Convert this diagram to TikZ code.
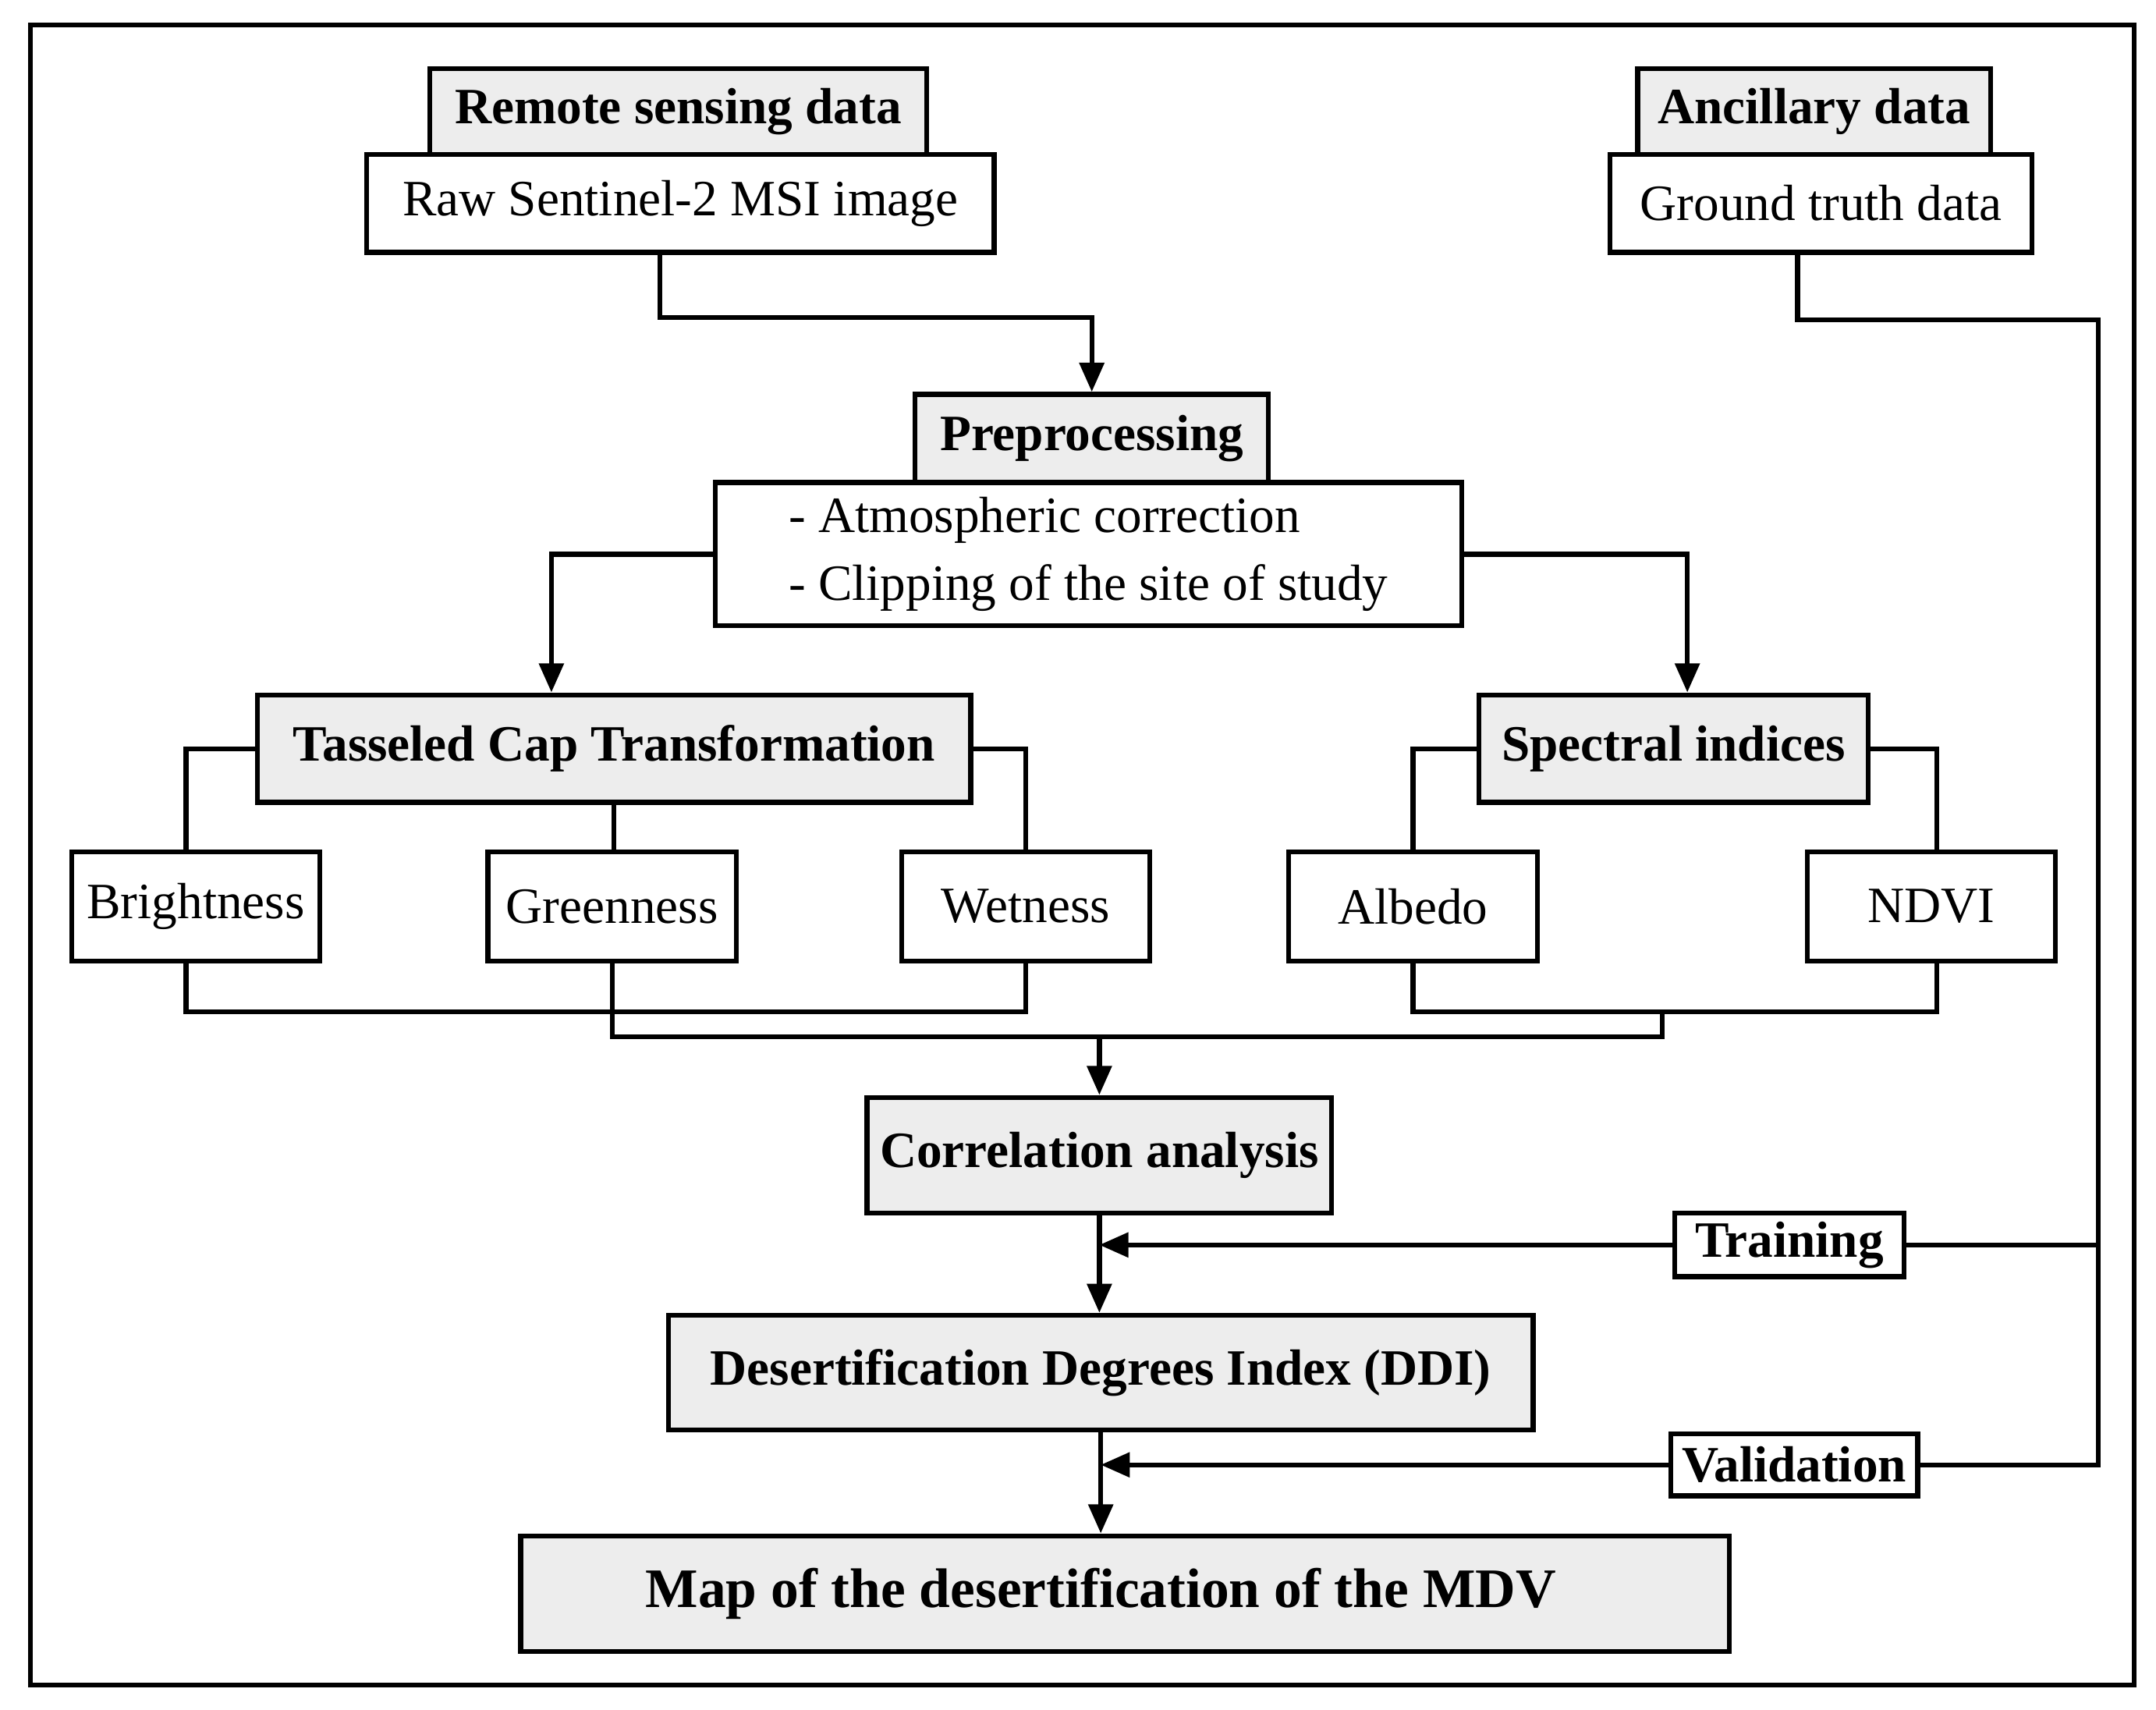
\documentclass[tikz,border=0pt]{standalone}
\usepackage{fontspec}
\setmainfont{Liberation Serif}
\usetikzlibrary{calc,arrows.meta}
\begin{document}
\begin{tikzpicture}[x=0.01cm,y=-0.01cm,
  ln/.style={line width=1pt},
  box/.style={draw,line width=1pt,fill=white,inner sep=0pt,font=\fontsize{10.5}{12}\selectfont},
  hdr/.style={box,fill=black!7,font=\fontsize{10.5}{12}\selectfont\bfseries},
  arr/.style={ln,-{Triangle[length=6pt,width=5pt]}}]
\useasboundingbox (0,0) rectangle (1564,1240);
\draw[ln] (22,18) rectangle (1548,1222);
\node[hdr,minimum width=3.6cm,minimum height=0.62cm] (rs) at (492,81) {Remote sensing data};
\node[box,minimum width=4.55cm,minimum height=0.71cm] (raw) at (493.5,147.5) {Raw Sentinel-2 MSI image};
\node[hdr,minimum width=2.56cm,minimum height=0.62cm] (anc) at (1316,81) {Ancillary data};
\node[box,minimum width=3.06cm,minimum height=0.71cm] (gt) at (1321,147.5) {Ground truth data};
\node[hdr,minimum width=2.56cm,minimum height=0.64cm] (pre) at (792,318) {Preprocessing};
\node[box,minimum width=5.41cm,minimum height=1.04cm,align=left] (prebox) at (789.5,402) {- Atmospheric correction\\[2pt]- Clipping of the site of study};
\node[hdr,minimum width=5.17cm,minimum height=0.78cm] (tct) at (445.5,543) {Tasseled Cap Transformation};
\node[hdr,minimum width=2.82cm,minimum height=0.78cm] (si) at (1214,543) {Spectral indices};
\node[box,minimum width=1.8cm,minimum height=0.79cm] (bright) at (142,657.5) {Brightness};
\node[box,minimum width=1.8cm,minimum height=0.79cm] (green) at (444,657.5) {Greenness};
\node[box,minimum width=1.8cm,minimum height=0.79cm] (wet) at (744,657.5) {Wetness};
\node[box,minimum width=1.8cm,minimum height=0.79cm] (alb) at (1025,657.5) {Albedo};
\node[box,minimum width=1.8cm,minimum height=0.79cm] (ndvi) at (1401,657.5) {NDVI};
\node[hdr,minimum width=3.37cm,minimum height=0.84cm] (corr) at (797.5,838) {Correlation analysis};
\node[hdr,minimum width=6.27cm,minimum height=0.83cm] (ddi) at (798.5,995.5) {Desertification Degrees Index (DDI)};
\node[hdr,minimum width=8.76cm,minimum height=0.84cm,font=\fontsize{11.5}{13}\selectfont\bfseries] (map) at (816,1156) {Map of the desertification of the MDV\hspace*{0.35cm}};
\node[box,fill=white,font=\fontsize{10.5}{12}\selectfont\bfseries,minimum width=1.66cm,minimum height=0.46cm] (train) at (1298,903) {Training};
\node[box,fill=white,font=\fontsize{10.5}{12}\selectfont\bfseries,minimum width=1.79cm,minimum height=0.45cm] (val) at (1301.5,1062.5) {Validation};
\coordinate (rt) at (1522,232);
\coordinate (rb) at (1522,1062.5);
\coordinate (j) at (797.5,752);
% connectors
\draw[arr] ($(raw.south)+(-15,0)$) |- ($(pre.north)+(0,-54)$) -- (pre.north);
\draw[ln] ($(gt.south)+(-17,0)$) |- (rt) -- (rb) -- (val.east);
\draw[ln] (train.east) -- (train.east -| rt);
\draw[arr] (train.west) -- (train.west -| corr.south);
\draw[arr] (val.west) -- (val.west -| ddi.south);
\draw[arr] (corr.south) -- (corr.south |- ddi.north);
\draw[arr] (ddi.south) -- (ddi.south |- map.north);
\draw[arr] (prebox.west) -| ($(tct.north)+(-45.5,0)$);
\draw[arr] (prebox.east) -| ($(si.north)+(10,0)$);
\draw[ln] (tct.west) -| ($(bright.north)+(-7,0)$);
\draw[ln] (tct.east) -| (wet.north);
\draw[ln] (tct.south) -- (tct.south |- green.north);
\draw[ln] (si.west) -| (alb.north);
\draw[ln] (si.east) -| ($(ndvi.north)+(4,0)$);
\draw[ln] ($(bright.south)+(-7,0)$) |- ($(wet.south)+(0,35)$) -- (wet.south);
\draw[ln] (alb.south) |- ($(ndvi.south)+(4,35)$) -- ($(ndvi.south)+(4,0)$);
\draw[ln] (green.south) |- ($(1206,752)$) -- (1206,732);
\draw[arr] (j) -- (corr.north);
\end{tikzpicture}
\end{document}
